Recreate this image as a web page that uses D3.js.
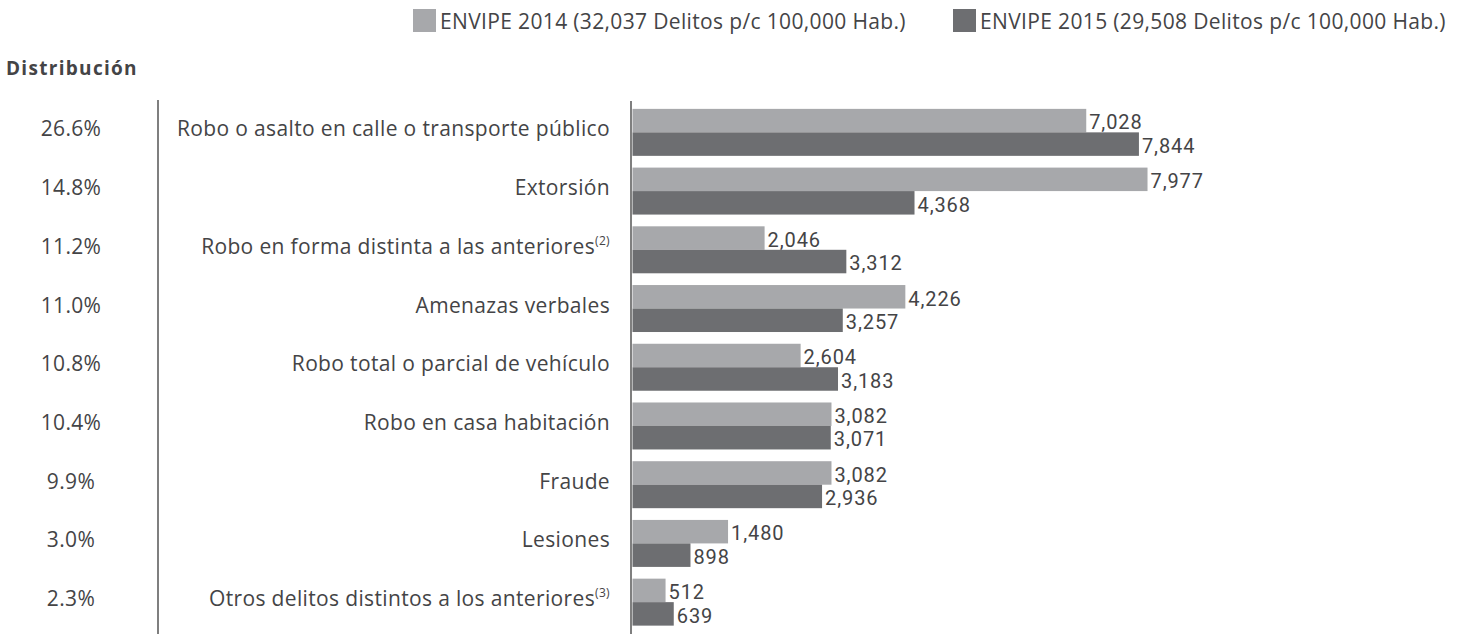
<!DOCTYPE html>
<html><head><meta charset="utf-8">
<script src="https://cdn.jsdelivr.net/npm/d3@7"></script>
<style>body{margin:0;background:#fff}svg{display:block}</style>
</head><body><svg id="c" width="1465" height="635"></svg>
<script>
const categories = ["Robo o asalto en calle o transporte público","Extorsión","Robo en forma distinta a las anteriores","Amenazas verbales","Robo total o parcial de vehículo","Robo en casa habitación","Fraude","Lesiones","Otros delitos distintos a los anteriores"];
const footnotes = ["","","(2)","","","","","","(3)"];
const distribution = ["26.6%","14.8%","11.2%","11.0%","10.8%","10.4%","9.9%","3.0%","2.3%"];
const values2014 = [7028,7977,2046,4226,2604,3082,3082,1480,512];
const values2015 = [7844,4368,3312,3257,3183,3071,2936,898,639];
const seriesNames = ["ENVIPE 2014 (32,037 Delitos p/c 100,000 Hab.)","ENVIPE 2015 (29,508 Delitos p/c 100,000 Hab.)"];
const colors = ["#a7a8ab","#6d6e71"];

const svg = d3.select("#c");
const font = "'Open Sans', sans-serif";
const txt = "#444446";
const fs = 21;
const ls = 0.35;

const y = d3.scaleBand().domain(categories).range([103, 631.5]).paddingInner(0.2).paddingOuter(0.1);
const x = d3.scaleLinear().domain([0, 8000]).range([632.5, 1149]);
const fmt = d3.format(",");

// legend
const lg = svg.append("g");
const legX = [413, 953];
seriesNames.forEach((s,i)=>{
  lg.append("rect").attr("x",legX[i]).attr("y",9).attr("width",23).attr("height",23).attr("fill",colors[i]);
  lg.append("text").attr("x",legX[i]+27).attr("y",29).attr("font-family",font).attr("font-size",fs)
    .attr("letter-spacing",ls).attr("fill",txt).text(s);
});

svg.append("text").attr("x",6).attr("y",74.5).attr("font-family",font).attr("font-size",19)
  .attr("font-weight","bold").attr("letter-spacing",1.3).attr("fill",txt).text("Distribución");

// lines
svg.append("line").attr("x1",158).attr("x2",158).attr("y1",100).attr("y2",634).attr("stroke","#555").attr("stroke-width",1.5);
svg.append("line").attr("x1",631).attr("x2",631).attr("y1",101).attr("y2",634).attr("stroke","#555").attr("stroke-width",1.5);

const bw = y.bandwidth()/2;
const g = svg.selectAll("g.row").data(categories).enter().append("g").attr("class","row");
g.append("text").attr("x",71).attr("y",d=>y(d)+y.bandwidth()/2+4).attr("text-anchor","middle")
  .attr("font-family",font).attr("font-size",fs).attr("letter-spacing",ls).attr("fill",txt).text((d,i)=>distribution[i]);
const lab = g.append("text").attr("x",610).attr("y",d=>y(d)+y.bandwidth()/2+4).attr("text-anchor","end")
  .attr("font-family",font).attr("font-size",fs).attr("letter-spacing",ls).attr("fill",txt);
lab.append("tspan").text(d=>d);
lab.append("tspan").attr("font-size",12).attr("dy",-9).text((d,i)=>footnotes[i]);

[values2014, values2015].forEach((vals,k)=>{
  g.append("rect").attr("x",x(0)).attr("y",d=>y(d)+k*bw).attr("width",(d,i)=>x(vals[i])-x(0)).attr("height",bw).attr("fill",colors[k]);
  g.append("text").attr("x",(d,i)=>x(vals[i])+3).attr("y",d=>y(d)+(k+1)*bw-3)
    .attr("font-family","Roboto, sans-serif").attr("font-size",20).attr("letter-spacing",0.9).attr("fill",txt).text((d,i)=>fmt(vals[i]));
});
</script></body></html>
